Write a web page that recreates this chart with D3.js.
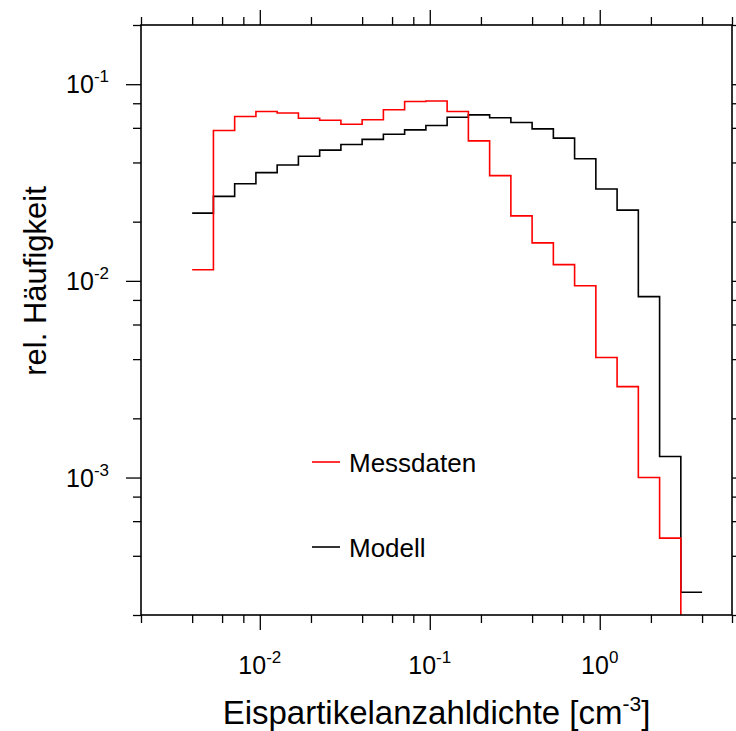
<!DOCTYPE html>
<html>
<head>
<meta charset="utf-8">
<script src="https://cdn.jsdelivr.net/npm/d3@7"></script>
<style>
  body { margin: 0; background: #fff; }
  text { font-family: "Liberation Sans", Arial, Helvetica, sans-serif; fill: #000; }
</style>
</head>
<body>
<div id="container"></div>
<script>
/* CONSTANTS AND GLOBALS */
const width = 736,
  height = 731
const margin = { left: 141, right: 4, top: 25, bottom: 116 }

// bin edges of the histogram (log spaced, cm^-3)
const binEdges = [0.004, 0.005335, 0.007113, 0.009487, 0.01265, 0.01687, 0.0225, 0.03, 0.04,
  0.05335, 0.07113, 0.09487, 0.1265, 0.1687, 0.225, 0.3, 0.4,
  0.5335, 0.7113, 0.9487, 1.265, 1.687, 2.25, 3.0, 4.0]

// relative frequency per bin
const modellValues = [0.0221, 0.0269, 0.0312, 0.0355, 0.0388, 0.0430, 0.0462, 0.0494, 0.0524,
  0.0557, 0.0586, 0.0617, 0.0679, 0.0698, 0.0675, 0.0639, 0.0593, 0.0532, 0.0418,
  0.0293, 0.0229, 0.00832, 0.00128, 0.000261]
const messValues = [0.0114, 0.0582, 0.0685, 0.0727, 0.0714, 0.0671, 0.0656, 0.0626, 0.0659,
  0.0741, 0.0817, 0.0822, 0.0727, 0.0515, 0.0343, 0.0214, 0.0156, 0.0121, 0.00944,
  0.00408, 0.00290, 0.00100, 0.000492, 0]

const xMajor = [0.01, 0.1, 1]
const xMinor = [0.002, 0.004, 0.006, 0.008, 0.02, 0.04, 0.06, 0.08, 0.2, 0.4, 0.6, 0.8, 2, 4, 6]
const yMajor = [0.001, 0.01, 0.1]
const yMinor = [0.0002, 0.0004, 0.0006, 0.0008, 0.002, 0.004, 0.006, 0.008, 0.02, 0.04, 0.06, 0.08, 0.2]

const series = [
  { name: "Modell", values: modellValues, color: "#000000" },
  { name: "Messdaten", values: messValues, color: "#ff0000" }
]

const innerW = width - margin.left - margin.right,
  innerH = height - margin.top - margin.bottom

// SCALES
const xScale = d3.scaleLog()
  .domain([0.002, 6])
  .range([margin.left, margin.left + innerW])

const yScale = d3.scaleLog()
  .domain([0.0002, 0.2])
  .range([margin.top + innerH, margin.top])

// APPEND SVG
const svg = d3.select("#container")
  .append("svg")
  .attr("width", width)
  .attr("height", height)
  .style("background", "#fff")

svg.append("clipPath")
  .attr("id", "plotClip")
  .append("rect")
  .attr("x", margin.left)
  .attr("y", margin.top)
  .attr("width", innerW)
  .attr("height", innerH)

// step line: every bin is a flat segment, neighbours joined by verticals
function stepPoints(values) {
  const pts = []
  values.forEach((v, i) => {
    const y = v > 0 ? yScale(v) : margin.top + innerH + 50
    pts.push([xScale(binEdges[i]), y])
    pts.push([xScale(binEdges[i + 1]), y])
  })
  return pts
}

const line = d3.line()

svg.append("g")
  .attr("clip-path", "url(#plotClip)")
  .selectAll("path")
  .data(series)
  .join("path")
  .attr("d", d => line(stepPoints(d.values)))
  .attr("fill", "none")
  .attr("stroke", d => d.color)
  .attr("stroke-width", 1.6)
  .attr("stroke-linejoin", "miter")

// AXES (ticks outward on all four sides)
function drawTicks(axisFn, scale, vals, size, transform) {
  svg.append("g")
    .attr("transform", transform)
    .call(axisFn(scale).tickValues(vals).tickSize(size).tickFormat(""))
    .call(g => g.select(".domain").remove())
    .call(g => g.selectAll("line").attr("stroke", "#000").attr("stroke-width", 1.3))
}

const bottomY = margin.top + innerH,
  rightX = margin.left + innerW

drawTicks(d3.axisBottom, xScale, xMajor, 15, `translate(0,${bottomY})`)
drawTicks(d3.axisBottom, xScale, xMinor, 8, `translate(0,${bottomY})`)
drawTicks(d3.axisTop, xScale, xMajor, 15, `translate(0,${margin.top})`)
drawTicks(d3.axisTop, xScale, xMinor, 8, `translate(0,${margin.top})`)
drawTicks(d3.axisLeft, yScale, yMajor, 15, `translate(${margin.left},0)`)
drawTicks(d3.axisLeft, yScale, yMinor, 8, `translate(${margin.left},0)`)
drawTicks(d3.axisRight, yScale, yMajor, 15, `translate(${rightX},0)`)
drawTicks(d3.axisRight, yScale, yMinor, 8, `translate(${rightX},0)`)

// frame
svg.append("rect")
  .attr("x", margin.left)
  .attr("y", margin.top)
  .attr("width", innerW)
  .attr("height", innerH)
  .attr("fill", "none")
  .attr("stroke", "#000")
  .attr("stroke-width", 1.6)

// tick labels as 10^n
function powLabel(sel) {
  sel.append("tspan").text("10")
  sel.append("tspan")
    .attr("dy", -11)
    .attr("font-size", 17)
    .text(d => Math.round(Math.log10(d)))
}

svg.append("g")
  .selectAll("text")
  .data(xMajor)
  .join("text")
  .attr("x", d => xScale(d))
  .attr("y", bottomY + 59)
  .attr("font-size", 25)
  .attr("text-anchor", "middle")
  .call(powLabel)

svg.append("g")
  .selectAll("text")
  .data(yMajor)
  .join("text")
  .attr("x", margin.left - 32)
  .attr("y", d => yScale(d) + 9)
  .attr("font-size", 25)
  .attr("text-anchor", "end")
  .call(powLabel)

// axis titles
const xTitle = svg.append("text")
  .attr("x", margin.left + innerW / 2)
  .attr("y", 724)
  .attr("font-size", 33)
  .attr("text-anchor", "middle")
xTitle.append("tspan").text("Eispartikelanzahldichte [cm")
xTitle.append("tspan").attr("dy", -13).attr("font-size", 21).text("-3")
xTitle.append("tspan").attr("dy", 13).text("]")

svg.append("text")
  .attr("transform", "translate(46,281) rotate(-90)")
  .attr("font-size", 31)
  .attr("text-anchor", "middle")
  .text("rel. Häufigkeit")

// LEGEND
const legendRows = [
  { name: "Messdaten", color: "#ff0000", y: 462 },
  { name: "Modell", color: "#000000", y: 547 }
]

const legend = svg.append("g")
  .selectAll("g")
  .data(legendRows)
  .join("g")
  .attr("transform", d => `translate(312,${d.y})`)

legend.append("line")
  .attr("x1", 0)
  .attr("x2", 28)
  .attr("stroke", d => d.color)
  .attr("stroke-width", 1.6)

legend.append("text")
  .attr("x", 37)
  .attr("y", 10)
  .attr("font-size", 26)
  .text(d => d.name)
</script>
</body>
</html>
